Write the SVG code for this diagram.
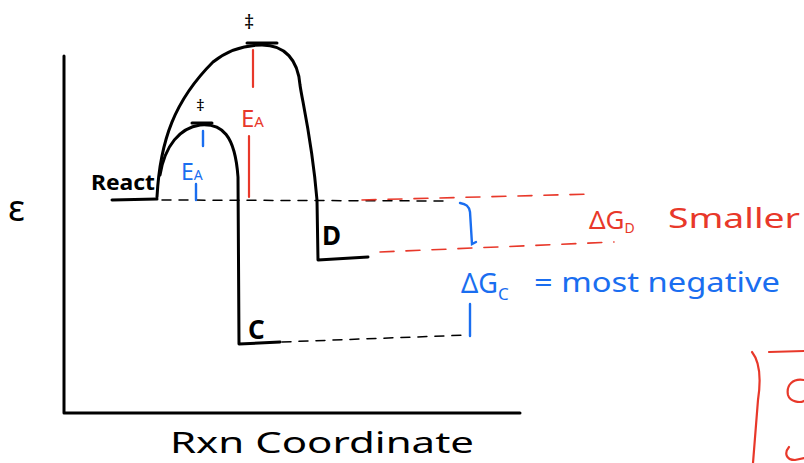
<svg xmlns="http://www.w3.org/2000/svg" width="804" height="463" viewBox="0 0 804 463">
<style>
.k{fill:none;stroke:#000;stroke-width:3;stroke-linecap:round;stroke-linejoin:round}
.r{fill:none;stroke:#e8382a;stroke-width:2.2;stroke-linecap:round}
.rd{fill:none;stroke:#e8382a;stroke-width:1.6;stroke-linecap:round;stroke-dasharray:14 12}
.b{fill:none;stroke:#1a6ef0;stroke-width:2.4;stroke-linecap:round}
.bd{fill:none;stroke:#000;stroke-width:1.5;stroke-linecap:round;stroke-dasharray:9 8}
text{font-family:"Noto Sans","DejaVu Sans",sans-serif}
.tk{fill:#000}
.tr{fill:#e8382a}
.tb{fill:#1a6ef0}
</style>
<rect width="804" height="463" fill="#fff"/>
<g id="axes">
<path class="k" d="M64 56 L64 413 L520 413" stroke-width="2.6"/>
<text class="tk" x="8" y="221" font-size="36">ε</text>
<text class="tk" x="170" y="453" font-size="29" textLength="304" lengthAdjust="spacingAndGlyphs">Rxn Coordinate</text>
</g>
<g id="reactant">
<path class="k" d="M112 200 L157 199"/>
<text class="tk" x="91" y="190" font-size="21" font-weight="bold" textLength="64" lengthAdjust="spacingAndGlyphs">React</text>
</g>
<g id="uncatalyzed">
<path class="k" d="M157 197 C160 140 175 100 213 62 C228 50 245 45 262 45 C285 45 298 60 300 85 C302 100 312 140 317 200 L318 260 L368 257"/>
<path class="k" d="M247 43 L277 43" stroke-width="2.6"/>
<text class="tk" x="244" y="29" font-size="20">‡</text>
<text class="tk" x="322" y="245" font-size="26" font-weight="bold">D</text>
</g>
<g id="catalyzed">
<path class="k" d="M160 175 C165 145 180 128 200 125 C222 123 235 135 238 177 L239 344 L280 342"/>
<path class="k" d="M192 123 L212 123" stroke-width="2.6"/>
<text class="tk" x="196" y="111" font-size="17">‡</text>
<text class="tk" x="248" y="339" font-size="26" font-weight="bold">C</text>
</g>
<g id="connectors">
<path class="bd" d="M162 200 L445 201"/>
<path class="rd" d="M362 200 L593 194"/>
<path class="rd" d="M380 252 L614 242"/>
<path class="bd" d="M282 342 L468 335"/>
<path class="r" d="M253 50 L253 87 M249 136 L249 197"/>
<path class="b" d="M203 131 L203 146 M196 184 L196 200"/>
<path class="b" d="M460 203 C466 204 469 206 470 212 L472 244 L476 242"/>
<path class="b" d="M470 304 L470 336"/>
<path class="r" d="M752 352 C760 362 761 380 758 400 L753 463" stroke-width="3.5"/>
<path class="r" d="M769 352 L804 351" stroke-width="3.5"/>
<path class="r" d="M804 380 C793 378 786 385 788 395 C790 402 800 403 804 401" stroke-width="3.5"/>
<path class="r" d="M789 447 C784 453 786 460 795 460 L804 458" stroke-width="3.5"/>
</g>
<g id="labels">
<text class="tr" x="241" y="127" font-size="24">E<tspan font-size="15">A</tspan></text>
<text class="tb" x="181" y="180" font-size="23">E<tspan font-size="14">A</tspan></text>
<text class="tr" x="589" y="229" font-size="26">ΔG<tspan font-size="14" dy="4">D</tspan></text>
<text class="tr" x="668" y="228" font-size="27" textLength="132" lengthAdjust="spacingAndGlyphs">Smaller</text>
<text class="tb" x="461" y="293" font-size="27">ΔG<tspan font-size="17" dy="7">C</tspan></text>
<text class="tb" x="534" y="292" font-size="27" textLength="246" lengthAdjust="spacingAndGlyphs">= most negative</text>
</g>
</svg>
